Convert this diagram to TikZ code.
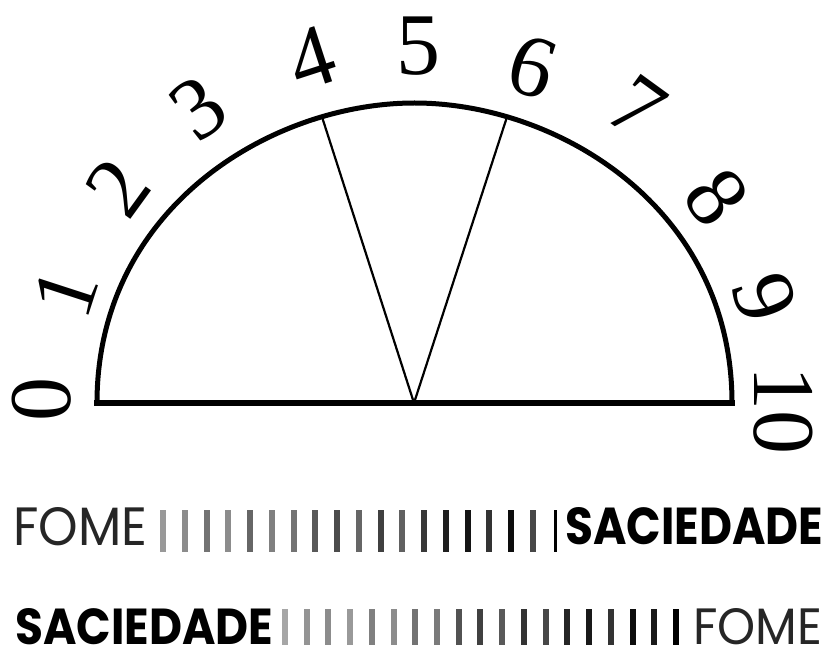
\documentclass[tikz,border=0pt]{standalone}
\usepackage{fontspec}
\usepackage{graphicx}
\setmainfont{Liberation Serif}
\newfontfamily\geo{Poppins}
\begin{document}
\begin{tikzpicture}[x=1pt,y=-1pt,
  numlab/.style={font=\fontsize{88}{88}\selectfont, inner sep=0, anchor=center},
  wordlab/.style={inner sep=0, anchor=south west, font=\geo},
  barline/.style={line width=6pt}]
\useasboundingbox[fill=white] (0,0) rectangle (827,652);
\coordinate (L) at (97,403);
\coordinate (R) at (732,403);
\coordinate (T) at (414.5,103);
\coordinate (A) at (414,403);
% arc
\draw[line width=5pt] (L) .. controls (97,208) and (271,103) .. (T) coordinate[pos=0.79] (p4)
  .. controls (558,103) and (732,208) .. (R) coordinate[pos=0.21] (p6);
% base
\draw[line width=5.5pt, line cap=rect] (L) -- (R);
% spokes
\draw[line width=2.2pt] (A) -- (p4);
\draw[line width=2.2pt] (A) -- (p6);
% numbers
\foreach \k/\x/\y in {0/42/399, 1/66/293, 2/118/188, 3/198/108, 4/311/58, 5/418/46,
  6/532/67, 7/637/107, 8/717/197, 9/765/298, 10/783/410}
  \node[numlab, rotate={90-18*\k}] (n\k) at (\x,\y) {\k};
% words
\node[wordlab, text=black!85] (f1) at (13,546) {\resizebox{134pt}{38pt}{FOME}};
\node[wordlab] (s1) at (565,545) {\resizebox{258pt}{37pt}{\bfseries SACIEDADE}};
\node[wordlab] (s2) at (15,645) {\resizebox{258pt}{36pt}{\bfseries SACIEDADE}};
\node[wordlab, text=black!85] (f2) at (693,645) {\resizebox{129pt}{36pt}{FOME}};
% bars row 1
\foreach \i/\c in {0/40,1/45,2/55,3/45,4/60,5/50,6/55,7/65,8/70,9/60,10/75,11/62,12/78,13/88,14/92,15/80,16/95,17/72}
  \draw[barline, black!\c] ({163+21.75*\i},510) -- ({163+21.75*\i},552);
\draw[line width=3pt, black] (555,510) -- (555,552);
% bars row 2
\foreach \i/\c in {0/35,1/42,2/45,3/40,4/50,5/45,6/55,7/52,8/68,9/75,10/65,11/80,12/72,13/85,14/90,15/80,16/95,17/90,18/100}
  \draw[barline, black!\c] ({285+21.72*\i},609) -- ({285+21.72*\i},645);
\end{tikzpicture}
\end{document}
